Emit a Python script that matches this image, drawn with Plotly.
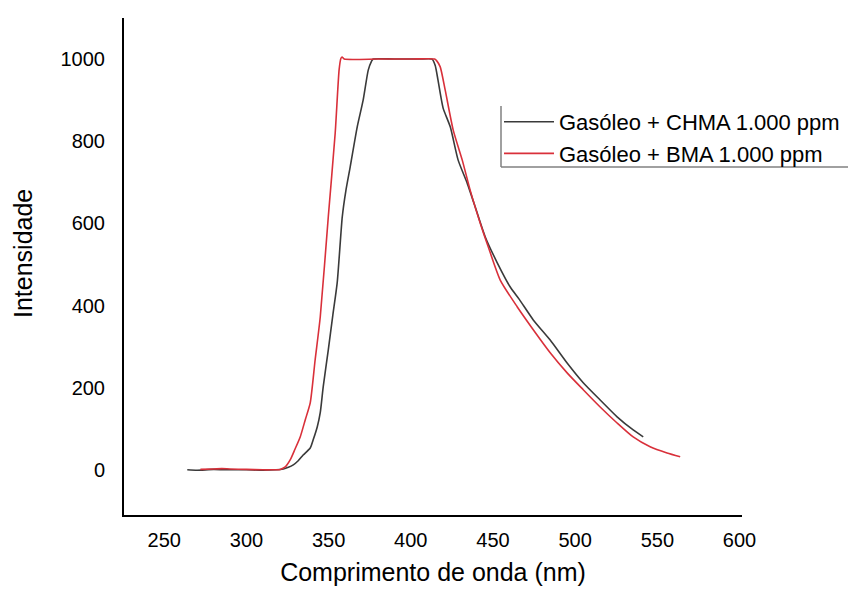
import plotly.graph_objects as go

# Data
chma_x = [264, 270, 280, 290, 300, 310, 318, 322.4, 325.5, 328.5, 331.5, 334.5, 338.8,
          340.6, 343.1, 344.9, 346.7, 349.8, 352.5, 355.2, 358.3, 360.5, 363.1, 367.4,
          371.0, 374.1, 376.0, 377.1, 390, 405, 412.9, 414.8, 416.5, 417.9, 419.7,
          424.0, 428.8, 434.3, 440.4, 445.3, 452.6, 460.5, 466.0, 474.5, 484.8,
          495.1, 504.9, 515.2, 525.5, 535.3, 541.4]
chma_y = [0, -1, 1, 0, 0, -1, 0, 2, 6, 12, 22, 36, 53,
          73, 105, 139, 202, 292, 375, 455, 616, 680, 737, 835,
          900, 973, 994, 1000, 1000, 1000, 1000, 985, 950, 917, 880,
          835, 754, 698, 625, 567, 504, 445, 415, 365, 316,
          260, 212, 170, 129, 97, 80]

bma_x = [272, 280, 285, 290, 300, 310, 314.5, 320.5, 323.6, 326.6, 329.5, 332.7, 335.8,
         338.8, 341.8, 344.9, 349.8, 354.0, 356.4, 357.5, 358.2, 359.5, 380, 400,
         414.5, 415.9, 417.9, 420.9, 425.8, 431.3, 436.1, 442.2, 447.1, 454.4,
         464.7, 474.5, 484.8, 495.1, 504.9, 515.2, 525.5, 535.3, 545.6, 555.9, 563.9]
bma_y = [1, 2, 3, 2, 1, 0, 0, 1, 7, 24, 50, 80, 122,
         163, 268, 372, 616, 820, 975, 1002, 1005, 1000, 1000, 1000,
         1000, 995, 981, 925, 827, 754, 681, 601, 543, 462,
         397, 341, 285, 236, 195, 153, 114, 80, 56, 41, 32]

series_names = ["Gasóleo + CHMA 1.000 ppm", "Gasóleo + BMA 1.000 ppm"]
x_ticks = [250, 300, 350, 400, 450, 500, 550, 600]
y_ticks = [0, 200, 400, 600, 800, 1000]

FONT = "Liberation Sans, Arial, sans-serif"

fig = go.Figure()
fig.add_trace(go.Scatter(x=chma_x, y=chma_y, mode="lines", name=series_names[0],
                         line=dict(color="#3a3a3a", width=1.6, shape="spline", smoothing=0.6),
                         legendgroup="a"))
fig.add_trace(go.Scatter(x=bma_x, y=bma_y, mode="lines", name=series_names[1],
                         line=dict(color="#d9303a", width=1.6, shape="spline", smoothing=0.6),
                         legendgroup="b"))

W, H = 848, 592
L, R, T, B = 124, 106, 18, 77
pw, ph = W - L - R, H - T - B

def px(xp):
    return (xp - L) / pw

def py(yp):
    return (H - B - yp) / ph

fig.update_layout(
    width=W, height=H,
    margin=dict(l=L, r=R, t=T, b=B, autoexpand=False),
    paper_bgcolor="white", plot_bgcolor="white",
    font=dict(family=FONT, color="black"),
    showlegend=True,
    legend=dict(x=px(499), y=py(101), xanchor="left", yanchor="top",
                bgcolor="rgba(0,0,0,0)", borderwidth=0,
                font=dict(size=22, family=FONT, color="black"),
                itemwidth=50, tracegroupgap=3, traceorder="normal"),
    xaxis=dict(range=[225.5, 601.5], tickvals=x_ticks, ticks="", showgrid=False,
               zeroline=False, showline=True, linecolor="black", linewidth=2,
               tickfont=dict(size=20), ticklabelstandoff=6,
               title=dict(text="Comprimento de onda (nm)", font=dict(size=25), standoff=13)),
    yaxis=dict(range=[-110, 1100], tickvals=y_ticks, ticks="", showgrid=False,
               zeroline=False, showline=True, linecolor="black", linewidth=2,
               tickfont=dict(size=20), ticklabelstandoff=13),
    annotations=[
        dict(text="Intensidade", xref="paper", yref="paper", x=px(23), y=py(254),
             xanchor="center", yanchor="middle", textangle=-90, showarrow=False,
             font=dict(size=25, family=FONT, color="black")),
    ],
    shapes=[
        dict(type="line", xref="paper", yref="paper", x0=px(501), x1=px(501),
             y0=py(106), y1=py(167), line=dict(color="#808080", width=1.5)),
        dict(type="line", xref="paper", yref="paper", x0=px(501), x1=px(860),
             y0=py(167), y1=py(167), line=dict(color="#808080", width=1.5)),
    ],
)

fig.write_html("out.html")
